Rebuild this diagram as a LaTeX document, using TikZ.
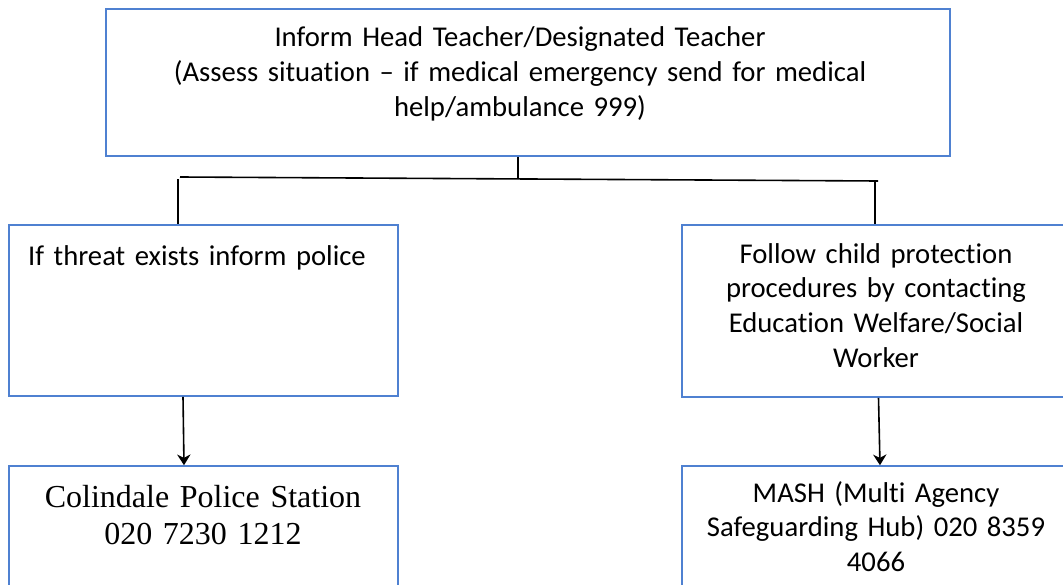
\documentclass[tikz,border=0pt]{standalone}
\usepackage{fontspec}
\setmainfont{Carlito}[Ligatures={TeX,NoCommon}]
\newfontfamily\stationfont{Liberation Serif}
\usetikzlibrary{arrows.meta}
\definecolor{boxblue}{RGB}{79,129,209}
\newcommand{\px}{0.75pt}
\tikzset{
    box/.style={draw=boxblue, line width=1.2pt, inner sep=0pt},
    txt/.style={anchor=base, align=center, inner sep=0pt, text width=380*\px, font=\fontsize{21.5}{26}\selectfont},
    link/.style={line width=1.2pt},
}
\begin{document}
\begin{tikzpicture}[x=0.75pt,y=-0.75pt,>={Stealth[length=8pt,width=10pt,inset=2.5pt]}]
        \useasboundingbox (0,0) rectangle (1063,585);
        \clip (0,0) rectangle (1063,585);

            \node[box, minimum width=844*\px, minimum height=147*\px] (head) at (528,82.5) {};
            \node[box, minimum width=389*\px, minimum height=171*\px] (threat) at (203.5,310.5) {};
            \node[box, minimum width=388*\px, minimum height=172*\px] (protect) at (876,311) {};
            \node[box, minimum width=389*\px, minimum height=154*\px] (police) at (203.5,543) {};
            \node[box, minimum width=388*\px, minimum height=154*\px] (mash) at (876,543) {};

            \node[txt, text width=820*\px] (headText) at (520,47) {Inform Head Teacher/Designated Teacher\\(Assess situation – if medical emergency send for medical\\help/ambulance 999)};
            \node[txt] (threatText) at (197,265) {If threat exists inform police};
            \node[txt] (protectText) at (876,263) {Follow child protection\\procedures by contacting\\Education Welfare/Social\\Worker};
            \node[txt, font=\stationfont\fontsize{24}{28}\selectfont] (policeText) at (203,507) {Colindale Police Station\\020 7230 1212};
            \node[txt] (mashText) at (876,502) {MASH (Multi Agency\\Safeguarding Hub) 020 8359\\4066};

        \coordinate (split) at (518,178);
        \coordinate (barL) at (180,177);
        \coordinate (barR) at (878,181);
        \coordinate (legL) at (178,179);
        \coordinate (legR) at (875,181);
        \draw[link] (head.south -| split) -- (split);
        \draw[link] (barL) -- (barR);
        \draw[link] (legL) -- (legL |- threat.north);
        \draw[link] (legR) -- (legR |- protect.north);
        \draw[link,->] ([xshift=-20.5*\px]threat.south) -- ([xshift=-19.5*\px]police.north);
        \draw[link,->] ([xshift=2.5*\px]protect.south) -- ([xshift=4*\px]mash.north);
    \end{tikzpicture}
\end{document}
